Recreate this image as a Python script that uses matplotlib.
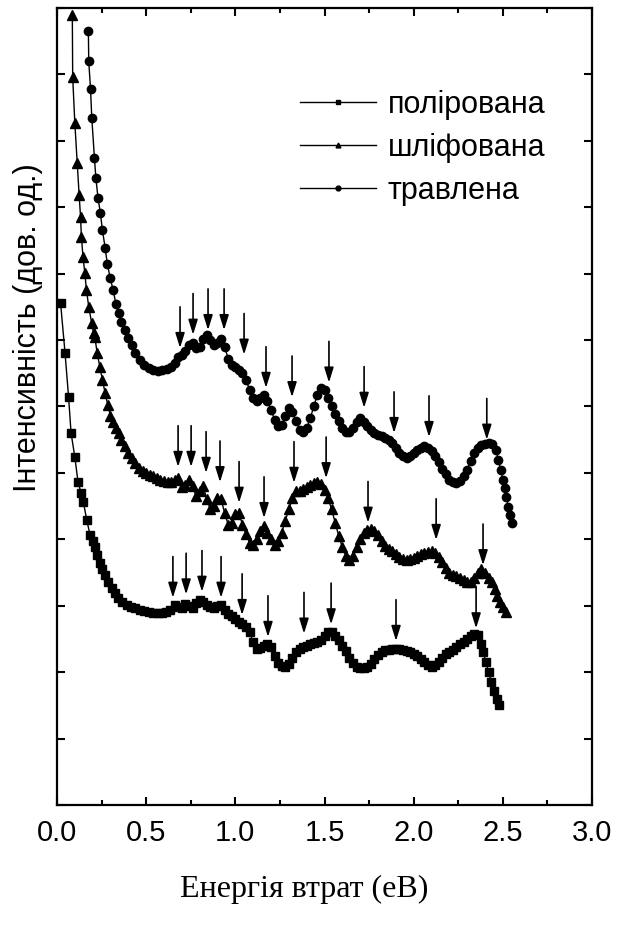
import matplotlib
matplotlib.use("Agg")
import matplotlib.pyplot as plt
from matplotlib.lines import Line2D
from matplotlib import font_manager

# series labels
labels = ["полірована", "шліфована", "травлена"]

# полірована (squares)
x_pol = [0.02, 0.045, 0.065, 0.079, 0.1, 0.118, 0.135, 0.148, 0.167, 0.185, 0.2, 0.213, 0.227, 0.241,
         0.255, 0.269, 0.288, 0.307, 0.325, 0.344, 0.365, 0.39, 0.415, 0.44, 0.465, 0.49, 0.515, 0.54,
         0.565, 0.59, 0.61, 0.635, 0.66, 0.68, 0.7, 0.72, 0.74, 0.76, 0.78, 0.8, 0.82, 0.84, 0.86, 0.88,
         0.9, 0.92, 0.94, 0.96, 0.98, 1.0, 1.02, 1.04, 1.06, 1.08, 1.1, 1.12, 1.14, 1.16, 1.18, 1.2,
         1.22, 1.24, 1.26, 1.28, 1.3, 1.32, 1.34, 1.36, 1.38, 1.4, 1.42, 1.44, 1.46, 1.48, 1.5, 1.52,
         1.54, 1.56, 1.58, 1.6, 1.62, 1.64, 1.66, 1.68, 1.7, 1.72, 1.74, 1.76, 1.78, 1.8, 1.82, 1.84,
         1.86, 1.88, 1.9, 1.92, 1.94, 1.96, 1.98, 2.0, 2.02, 2.04, 2.06, 2.08, 2.1, 2.12, 2.14, 2.16,
         2.18, 2.2, 2.22, 2.24, 2.26, 2.28, 2.3, 2.32, 2.34, 2.36, 2.375, 2.39, 2.405, 2.42, 2.435,
         2.45, 2.465, 2.48]
y_pol = [7.56, 6.81, 6.14, 5.6, 5.24, 4.86, 4.7, 4.56, 4.29, 4.07, 3.97, 3.89, 3.76, 3.64,
         3.55, 3.46, 3.36, 3.27, 3.19, 3.12, 3.06, 3.01, 2.98, 2.96, 2.94, 2.92, 2.9, 2.89,
         2.89, 2.89, 2.9, 2.94, 3.01, 2.98, 2.97, 3.02, 3.0, 2.97, 3.04, 3.09, 3.06, 3.01, 2.98, 2.97,
         3.0, 3.01, 2.94, 2.88, 2.84, 2.8, 2.76, 2.72, 2.68, 2.6, 2.45, 2.35, 2.37, 2.4, 2.43, 2.38,
         2.25, 2.14, 2.09, 2.08, 2.12, 2.22, 2.3, 2.35, 2.38, 2.4, 2.42, 2.44, 2.46, 2.48, 2.55, 2.6,
         2.6, 2.55, 2.48, 2.4, 2.32, 2.22, 2.14, 2.08, 2.06, 2.06, 2.07, 2.12, 2.2, 2.26, 2.3, 2.33,
         2.34, 2.35, 2.35, 2.35, 2.34, 2.32, 2.3, 2.27, 2.24, 2.2, 2.15, 2.1, 2.08, 2.1, 2.16, 2.22,
         2.27, 2.31, 2.34, 2.38, 2.42, 2.45, 2.5, 2.54, 2.57, 2.56, 2.42, 2.3, 2.15, 2.0, 1.85,
         1.72, 1.6, 1.5]

# шліфована (triangles)
x_shl = [0.086, 0.088, 0.1, 0.113, 0.124, 0.132, 0.137, 0.146, 0.156, 0.165, 0.178, 0.194, 0.205,
         0.212, 0.225, 0.24, 0.255, 0.27, 0.285, 0.3, 0.315, 0.33, 0.345, 0.36, 0.38, 0.4, 0.42, 0.44,
         0.46, 0.48, 0.5, 0.52, 0.54, 0.56, 0.58, 0.6, 0.62, 0.64, 0.66, 0.68, 0.7, 0.72, 0.74, 0.76,
         0.78, 0.8, 0.82, 0.84, 0.86, 0.88, 0.9, 0.92, 0.94, 0.96, 0.98, 1.0, 1.02, 1.04, 1.06, 1.08,
         1.1, 1.12, 1.14, 1.16, 1.18, 1.2, 1.22, 1.24, 1.26, 1.28, 1.3, 1.32, 1.34, 1.36, 1.38, 1.4,
         1.42, 1.44, 1.46, 1.48, 1.5, 1.52, 1.54, 1.56, 1.58, 1.6, 1.62, 1.64, 1.66, 1.68, 1.7, 1.72,
         1.74, 1.76, 1.78, 1.8, 1.82, 1.84, 1.86, 1.88, 1.9, 1.92, 1.94, 1.96, 1.98, 2.0, 2.02, 2.04,
         2.06, 2.08, 2.1, 2.12, 2.14, 2.16, 2.18, 2.2, 2.22, 2.24, 2.26, 2.28, 2.3, 2.32, 2.34, 2.36,
         2.38, 2.4, 2.42, 2.44, 2.455, 2.47, 2.485, 2.5, 2.515]
y_shl = [11.9, 10.96, 10.27, 9.67, 9.19, 8.86, 8.55, 8.25, 8.01, 7.76, 7.5, 7.26, 7.1,
         7.05, 6.81, 6.6, 6.4, 6.2, 6.02, 5.86, 5.76, 5.67, 5.6, 5.5, 5.4, 5.3, 5.22, 5.15,
         5.08, 5.03, 5.0, 4.97, 4.95, 4.92, 4.9, 4.88, 4.86, 4.87, 4.9, 4.93, 4.78, 4.82, 4.9, 4.8,
         4.65, 4.72, 4.8, 4.6, 4.45, 4.5, 4.62, 4.6, 4.4, 4.22, 4.25, 4.38, 4.4, 4.22, 4.08, 3.95,
         3.92, 4.0, 4.12, 4.2, 4.1, 4.0, 3.92, 3.97, 4.1, 4.28, 4.45, 4.62, 4.72, 4.72, 4.76, 4.79,
         4.82, 4.85, 4.86, 4.83, 4.74, 4.62, 4.45, 4.25, 4.05, 3.88, 3.75, 3.69, 3.75, 3.88, 4.0, 4.1,
         4.14, 4.15, 4.12, 4.06, 3.98, 3.9, 3.86, 3.82, 3.78, 3.74, 3.71, 3.69, 3.7, 3.72, 3.75, 3.78,
         3.8, 3.81, 3.82, 3.8, 3.74, 3.66, 3.57, 3.5, 3.47, 3.44, 3.41, 3.38, 3.35, 3.36, 3.42, 3.5,
         3.55, 3.5, 3.42, 3.36, 3.25, 3.15, 3.06, 2.98, 2.9]

# травлена (circles)
x_trv = [0.176, 0.178, 0.188, 0.195, 0.21, 0.218, 0.23, 0.243, 0.255, 0.27, 0.282, 0.298, 0.315,
         0.33, 0.345, 0.36, 0.38, 0.4, 0.42, 0.44, 0.465, 0.49, 0.515, 0.54, 0.565, 0.59, 0.615, 0.64,
         0.66, 0.68, 0.7, 0.72, 0.74, 0.76, 0.78, 0.8, 0.82, 0.84, 0.86, 0.88, 0.9, 0.92, 0.94, 0.96,
         0.98, 1.0, 1.02, 1.04, 1.06, 1.08, 1.1, 1.12, 1.14, 1.16, 1.18, 1.2, 1.22, 1.24, 1.26, 1.28,
         1.3, 1.32, 1.34, 1.36, 1.38, 1.4, 1.42, 1.44, 1.46, 1.48, 1.5, 1.52, 1.54, 1.56, 1.58, 1.6,
         1.62, 1.64, 1.66, 1.68, 1.7, 1.72, 1.74, 1.76, 1.78, 1.8, 1.82, 1.84, 1.86, 1.88, 1.9, 1.92,
         1.94, 1.96, 1.98, 2.0, 2.02, 2.04, 2.06, 2.08, 2.1, 2.12, 2.14, 2.16, 2.18, 2.2, 2.22, 2.24,
         2.26, 2.28, 2.3, 2.32, 2.34, 2.36, 2.38, 2.4, 2.42, 2.44, 2.46, 2.475, 2.487, 2.5, 2.51,
         2.52, 2.53, 2.54, 2.55]
y_trv = [11.65, 11.2, 10.78, 10.35, 9.74, 9.44, 9.14, 8.92, 8.65, 8.39, 8.15, 7.94, 7.75,
         7.55, 7.4, 7.27, 7.15, 7.03, 6.92, 6.8, 6.7, 6.63, 6.58, 6.55, 6.54, 6.55, 6.57, 6.6,
         6.66, 6.74, 6.78, 6.83, 6.93, 6.95, 6.88, 6.9, 7.02, 7.08, 7.0, 6.92, 6.95, 7.02, 6.9, 6.72,
         6.62, 6.6, 6.55, 6.5, 6.4, 6.25, 6.12, 6.08, 6.12, 6.17, 6.08, 5.95, 5.8, 5.7, 5.72, 5.85,
         5.98, 5.92, 5.78, 5.65, 5.62, 5.68, 5.82, 6.0, 6.18, 6.28, 6.25, 6.12, 6.0, 5.88, 5.78, 5.68,
         5.62, 5.62, 5.68, 5.76, 5.82, 5.76, 5.7, 5.65, 5.6, 5.57, 5.55, 5.52, 5.5, 5.45, 5.38, 5.3,
         5.25, 5.23, 5.26, 5.3, 5.35, 5.38, 5.4, 5.38, 5.33, 5.26, 5.16, 5.06, 4.98, 4.9, 4.86, 4.85,
         4.88, 4.95, 5.05, 5.18, 5.3, 5.38, 5.42, 5.44, 5.45, 5.43, 5.35, 5.2, 5.05, 4.9, 4.77,
         4.64, 4.49, 4.37, 4.25]

# arrows: x position and tip height for each curve
arrow_x_pol = [0.65, 0.724, 0.813, 0.92, 1.038, 1.183, 1.385, 1.537, 1.901, 2.35]
arrow_tip_pol = [3.12, 3.17, 3.21, 3.12, 2.86, 2.53, 2.58, 2.72, 2.47, 2.66]
arrow_x_shl = [0.679, 0.752, 0.836, 0.914, 1.021, 1.161, 1.329, 1.509, 1.744, 2.126, 2.389]
arrow_tip_shl = [5.09, 5.09, 5.0, 4.86, 4.55, 4.32, 4.85, 4.92, 4.25, 3.99, 3.61]
arrow_x_trv = [0.69, 0.763, 0.847, 0.937, 1.049, 1.172, 1.318, 1.525, 1.722, 1.89, 2.086, 2.41]
arrow_tip_trv = [6.88, 7.08, 7.15, 7.15, 6.78, 6.28, 6.14, 6.36, 5.98, 5.6, 5.54, 5.5]


def has_font(name):
    try:
        font_manager.findfont(name, fallback_to_default=False)
        return True
    except Exception:
        return False


plt.rcParams['font.family'] = ['Liberation Sans', 'DejaVu Sans']

fig = plt.figure(figsize=(6.29, 9.26), dpi=100)
ax = fig.add_axes([0.0906, 0.1307, 0.8506, 0.8607])

ax.plot(x_pol, y_pol, '-', color='k', lw=1, marker='s', ms=5.5, mec='k', mfc='k')
ax.plot(x_shl, y_shl, '-', color='k', lw=1, marker='^', ms=6.5, mec='k', mfc='k')
ax.plot(x_trv, y_trv, '-', color='k', lw=1, marker='o', ms=6, mec='k', mfc='k')

# arrows pointing to features
arrow_len = 0.62
for xs, tips in [(arrow_x_pol, arrow_tip_pol), (arrow_x_shl, arrow_tip_shl), (arrow_x_trv, arrow_tip_trv)]:
    for xa, ya in zip(xs, tips):
        ax.annotate('', xy=(xa, ya), xytext=(xa, ya + arrow_len),
                    arrowprops=dict(arrowstyle='-|>,head_length=0.9,head_width=0.28',
                                    color='k', lw=1.2, shrinkA=0, shrinkB=0))

ax.set_xlim(0, 3.0)
ax.set_ylim(0, 12)
ax.set_xticks([0.0, 0.5, 1.0, 1.5, 2.0, 2.5, 3.0])
ax.set_xticklabels(["0.0", "0.5", "1.0", "1.5", "2.0", "2.5", "3.0"])
ax.set_xticks([0.25, 0.75, 1.25, 1.75, 2.25, 2.75], minor=True)
ax.set_yticks(range(13))
ax.set_yticklabels([])
ax.tick_params(axis='both', which='both', direction='in', top=True, right=True, width=1.5)
ax.tick_params(axis='both', which='major', length=6)
ax.tick_params(axis='x', which='minor', length=3.5)
ax.tick_params(axis='x', which='major', labelsize=21, pad=10)
for sp in ax.spines.values():
    sp.set_linewidth(1.6)

# legend
handles = [Line2D([], [], color='k', lw=1, marker=m, ms=3.5) for m in ['s', '^', 'o']]
ax.legend(handles, labels, loc='upper left', bbox_to_anchor=(0.454, 0.897), frameon=False,
          fontsize=22, handlelength=2.5, handletextpad=0.38, labelspacing=0.42,
          borderpad=0, borderaxespad=0, numpoints=1)

# axis titles
if has_font('Liberation Sans Narrow'):
    yfam = ['Liberation Sans Narrow', 'DejaVu Sans']
    ysize = 26
else:
    yfam = ['Liberation Sans', 'DejaVu Sans']
    ysize = 22
fig.text(0.045, 0.646, "Інтенсивність (дов. од.)", rotation=90, ha='center', va='center',
         fontsize=ysize, family=yfam)
fig.text(0.483, 0.039, "Енергія втрат (еВ)", ha='center', va='center', fontsize=23,
         family=['Liberation Serif', 'DejaVu Serif'])

fig.savefig("out.png", dpi=100)
